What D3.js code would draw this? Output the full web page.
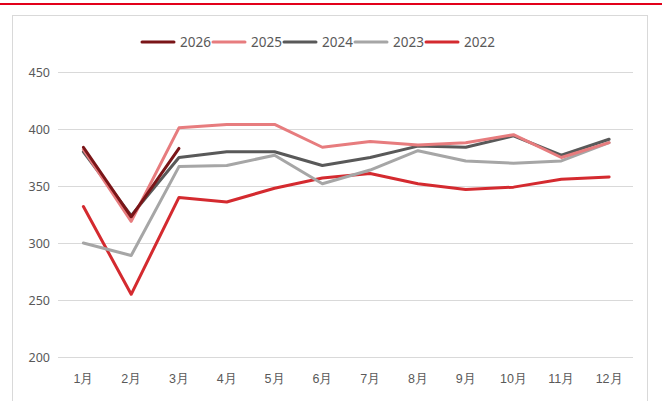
<!DOCTYPE html>
<html><head><meta charset="utf-8">
<script src="https://cdn.jsdelivr.net/npm/d3@7/dist/d3.min.js"></script>
<style>
html,body{margin:0;padding:0;background:#fff;}
svg{display:block;font-family:"Noto Sans CJK SC","Noto Sans",sans-serif;}
</style></head>
<body>
<svg id="c" width="662" height="401"></svg>
<script>
const months = ["1月","2月","3月","4月","5月","6月","7月","8月","9月","10月","11月","12月"];
const yTicks = [200,250,300,350,400,450];
const seriesNames = ["2026","2025","2024","2023","2022"];
const v2026 = [384,323,383];
const v2025 = [382,319,401,404,404,384,389,386,388,395,375,388];
const v2024 = [380,324,375,380,380,368,375,385,384,394,377,391];
const v2023 = [300,289,367,368,377,352,364,381,372,370,372,388];
const v2022 = [332,255,340,336,348,357,361,352,347,349,356,358];
const colors = {"2026":"#7a1518","2025":"#e77c7e","2024":"#595959","2023":"#a6a6a6","2022":"#d42a2f"};
const values = {"2026":v2026,"2025":v2025,"2024":v2024,"2023":v2023,"2022":v2022};

const svg = d3.select("#c");
// top red rule
svg.append("rect").attr("x",0).attr("y",3).attr("width",662).attr("height",2).attr("fill","#e2001a");
// chart box
svg.append("rect").attr("x",12.5).attr("y",15.5).attr("width",635).attr("height",400)
  .attr("fill","#fff").attr("stroke","#d9d9d9").attr("stroke-width",1);

const x = d3.scaleBand().domain(months).range([59.5,633]);
const y = d3.scaleLinear().domain([200,450]).range([357,72]);

// gridlines
svg.append("g").selectAll("line").data(yTicks).join("line")
  .attr("x1",58).attr("x2",633)
  .attr("y1",d=>Math.round(y(d))+0.5).attr("y2",d=>Math.round(y(d))+0.5)
  .attr("stroke","#d9d9d9").attr("stroke-width",1);

// y labels
const yAxis = d3.axisLeft(y).tickValues(yTicks).tickSize(0).tickPadding(0);
const gy = svg.append("g").attr("transform","translate(50,0)").call(yAxis);
gy.select(".domain").remove();
gy.selectAll("text").attr("fill","#595959").style("font-size","12.5px").style("font-family","'Noto Sans','DejaVu Sans',sans-serif");

// x labels
const xAxis = d3.axisBottom(x).tickSize(0).tickPadding(0);
const gx = svg.append("g").attr("transform","translate(0,374)").call(xAxis);
gx.select(".domain").remove();
gx.selectAll("text").attr("fill","#595959").style("font-size","12.5px").attr("dy","0.71em");

// lines (draw 2022 first, 2026 on top)
const line = d3.line().x((d,i)=>x(months[i])+x.bandwidth()/2).y(d=>y(d));
[...seriesNames].reverse().forEach(n=>{
  svg.append("path").datum(values[n]).attr("d",line)
    .attr("fill","none").attr("stroke",colors[n]).attr("stroke-width",3)
    .attr("stroke-linejoin","round").attr("stroke-linecap","round");
});

// legend
const lg = svg.append("g");
seriesNames.forEach((n,i)=>{
  const x0 = 142 + i*71;
  lg.append("line").attr("x1",x0).attr("x2",x0+32).attr("y1",42).attr("y2",42)
    .attr("stroke",colors[n]).attr("stroke-width",3).attr("stroke-linecap","round");
  lg.append("text").attr("x",x0+38).attr("y",42).attr("dy","0.35em")
    .attr("fill","#595959").style("font-size","13.5px").style("font-family","'Noto Sans','DejaVu Sans',sans-serif").text(n);
});
</script>
</body></html>
